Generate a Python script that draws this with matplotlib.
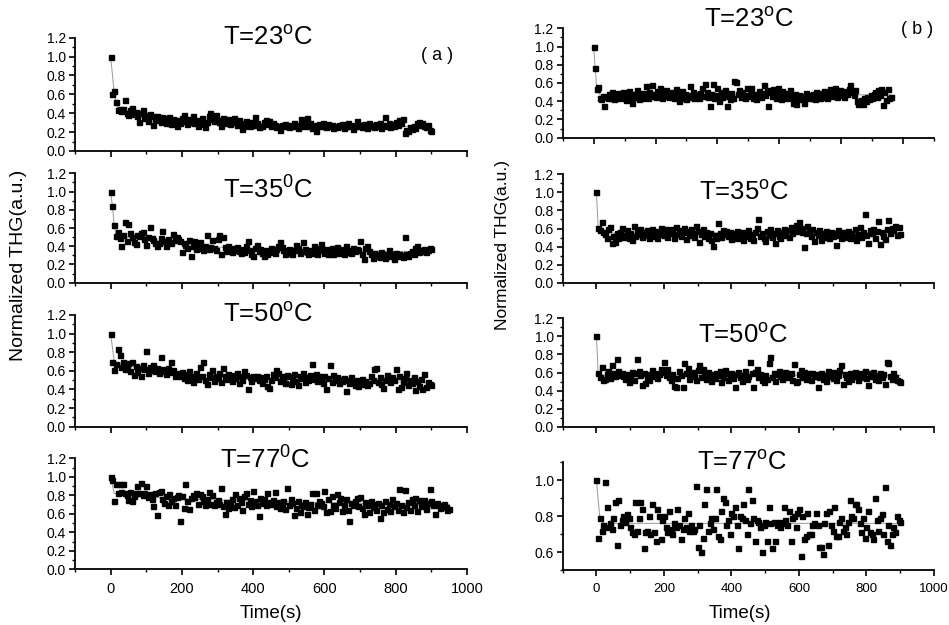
import numpy as np
import matplotlib
matplotlib.use("Agg")
import matplotlib.pyplot as plt
from matplotlib.ticker import MultipleLocator, FormatStrFormatter

plt.rcParams['font.family'] = ['Liberation Sans', 'DejaVu Sans']
plt.rcParams['mathtext.fontset'] = 'custom'
plt.rcParams['mathtext.rm'] = 'Liberation Sans'

DT = 5  # sampling step in s

# ---- column (a) ----
a23 = [1.00, 0.60, 0.64, 0.52, 0.43, 0.45, 0.42, 0.44, 0.54, 0.40,
       0.38, 0.43, 0.46, 0.39, 0.41, 0.37, 0.31, 0.40, 0.43, 0.35,
       0.38, 0.32, 0.39, 0.37, 0.28, 0.34, 0.37, 0.33, 0.31, 0.36,
       0.35, 0.30, 0.33, 0.36, 0.29, 0.34, 0.31, 0.27, 0.33, 0.30,
       0.35, 0.38, 0.32, 0.29, 0.34, 0.31, 0.37, 0.30, 0.33, 0.27,
       0.32, 0.35, 0.29, 0.25, 0.31, 0.37, 0.40, 0.34, 0.32, 0.38,
       0.33, 0.31, 0.26, 0.35, 0.33, 0.30, 0.34, 0.29, 0.32, 0.35,
       0.31, 0.28, 0.33, 0.30, 0.23, 0.27, 0.32, 0.29, 0.26, 0.31,
       0.28, 0.36, 0.30, 0.25, 0.27, 0.26, 0.31, 0.33, 0.29, 0.32,
       0.27, 0.30, 0.28, 0.25, 0.27, 0.22, 0.28, 0.26, 0.29, 0.27,
       0.25, 0.28, 0.27, 0.30, 0.26, 0.24, 0.28, 0.34, 0.26, 0.29,
       0.35, 0.27, 0.30, 0.24, 0.28, 0.21, 0.27, 0.29, 0.26, 0.30,
       0.27, 0.25, 0.29, 0.26, 0.28, 0.24, 0.27, 0.25, 0.28, 0.26,
       0.29, 0.24, 0.27, 0.30, 0.26, 0.28, 0.23, 0.27, 0.32, 0.26,
       0.28, 0.25, 0.29, 0.27, 0.24, 0.30, 0.26, 0.28, 0.25, 0.29,
       0.27, 0.30, 0.24, 0.28, 0.36, 0.26, 0.30, 0.25, 0.29, 0.27,
       0.31, 0.28, 0.33, 0.30, 0.34, 0.19, 0.22, 0.21, 0.25, 0.23,
       0.27, 0.24, 0.30, 0.31, 0.28, 0.30, 0.27, 0.25, 0.28, 0.22,
       0.21]
a35 = [1.00, 0.84, 0.63, 0.51, 0.56, 0.49, 0.40, 0.52, 0.67, 0.46,
       0.64, 0.55, 0.50, 0.45, 0.42, 0.52, 0.51, 0.55, 0.56, 0.48,
       0.41, 0.50, 0.61, 0.49, 0.47, 0.44, 0.40, 0.43, 0.49, 0.57,
       0.46, 0.40, 0.48, 0.45, 0.44, 0.53, 0.47, 0.50, 0.48, 0.46,
       0.34, 0.44, 0.41, 0.38, 0.47, 0.29, 0.40, 0.46, 0.37, 0.43,
       0.45, 0.38, 0.36, 0.40, 0.52, 0.37, 0.39, 0.47, 0.38, 0.36,
       0.48, 0.52, 0.31, 0.50, 0.39, 0.35, 0.40, 0.37, 0.34, 0.38,
       0.36, 0.39, 0.35, 0.33, 0.37, 0.34, 0.40, 0.46, 0.36, 0.31,
       0.29, 0.38, 0.41, 0.35, 0.37, 0.33, 0.29, 0.36, 0.31, 0.34,
       0.38, 0.35, 0.33, 0.37, 0.40, 0.45, 0.39, 0.36, 0.31, 0.33,
       0.37, 0.34, 0.32, 0.36, 0.41, 0.38, 0.33, 0.35, 0.45, 0.37,
       0.34, 0.31, 0.36, 0.33, 0.40, 0.35, 0.32, 0.38, 0.42, 0.36,
       0.33, 0.37, 0.31, 0.34, 0.38, 0.32, 0.36, 0.39, 0.33, 0.35,
       0.37, 0.32, 0.40, 0.34, 0.36, 0.33, 0.38, 0.35, 0.37, 0.36,
       0.46, 0.32, 0.26, 0.38, 0.40, 0.35, 0.31, 0.27, 0.33, 0.29,
       0.31, 0.28, 0.34, 0.30, 0.27, 0.32, 0.36, 0.29, 0.31, 0.26,
       0.33, 0.29, 0.32, 0.30, 0.28, 0.50, 0.31, 0.29, 0.33, 0.35,
       0.32, 0.38, 0.40, 0.34, 0.36, 0.35, 0.37, 0.34, 0.36, 0.38,
       0.37]
a50 = [1.00, 0.70, 0.61, 0.67, 0.84, 0.77, 0.64, 0.69, 0.62, 0.66,
       0.68, 0.60, 0.70, 0.56, 0.65, 0.59, 0.63, 0.55, 0.66, 0.62,
       0.81, 0.58, 0.64, 0.61, 0.66, 0.60, 0.63, 0.58, 0.75, 0.62,
       0.60, 0.57, 0.63, 0.59, 0.70, 0.61, 0.54, 0.58, 0.56, 0.54,
       0.59, 0.52, 0.57, 0.50, 0.60, 0.55, 0.48, 0.53, 0.58, 0.51,
       0.64, 0.55, 0.69, 0.50, 0.46, 0.57, 0.53, 0.61, 0.49, 0.55,
       0.52, 0.58, 0.48, 0.63, 0.55, 0.51, 0.57, 0.53, 0.49, 0.56,
       0.52, 0.58, 0.47, 0.54, 0.50, 0.60, 0.56, 0.40, 0.53, 0.49,
       0.55, 0.52, 0.54, 0.50, 0.53, 0.47, 0.51, 0.55, 0.44, 0.42,
       0.50, 0.57, 0.53, 0.61, 0.58, 0.49, 0.55, 0.52, 0.47, 0.56,
       0.54, 0.46, 0.51, 0.57, 0.49, 0.45, 0.55, 0.52, 0.58, 0.48,
       0.53, 0.50, 0.56, 0.67, 0.51, 0.57, 0.49, 0.54, 0.52, 0.47,
       0.55, 0.40, 0.52, 0.66, 0.48, 0.56, 0.50, 0.53, 0.47, 0.51,
       0.49, 0.52, 0.38, 0.50, 0.47, 0.53, 0.48, 0.45, 0.50, 0.44,
       0.48, 0.51, 0.46, 0.49, 0.45, 0.47, 0.55, 0.50, 0.62, 0.63,
       0.48, 0.53, 0.46, 0.42, 0.50, 0.56, 0.52, 0.48, 0.53, 0.50,
       0.62, 0.40, 0.55, 0.43, 0.48, 0.52, 0.58, 0.45, 0.50, 0.47,
       0.53, 0.39, 0.49, 0.44, 0.51, 0.40, 0.57, 0.43, 0.48, 0.46,
       0.45]
a77 = [1.00, 0.97, 0.74, 0.92, 0.83, 0.92, 0.84, 0.92, 0.82, 0.80,
       0.75, 0.84, 0.74, 0.79, 0.82, 0.90, 0.83, 0.93, 0.80, 0.82,
       0.90, 0.78, 0.81, 0.76, 0.68, 0.83, 0.59, 0.84, 0.85, 0.76,
       0.72, 0.79, 0.69, 0.81, 0.74, 0.77, 0.70, 0.78, 0.80, 0.52,
       0.79, 0.66, 0.92, 0.74, 0.65, 0.77, 0.80, 0.78, 0.83, 0.71,
       0.81, 0.79, 0.74, 0.69, 0.76, 0.84, 0.71, 0.80, 0.70, 0.73,
       0.75, 0.71, 0.88, 0.68, 0.60, 0.73, 0.66, 0.70, 0.76, 0.67,
       0.81, 0.70, 0.77, 0.73, 0.64, 0.79, 0.83, 0.71, 0.75, 0.68,
       0.85, 0.74, 0.69, 0.58, 0.77, 0.72, 0.76, 0.70, 0.83, 0.73,
       0.71, 0.75, 0.84, 0.68, 0.73, 0.66, 0.70, 0.74, 0.65, 0.88,
       0.69, 0.76, 0.72, 0.59, 0.66, 0.74, 0.62, 0.70, 0.68, 0.73,
       0.60, 0.67, 0.71, 0.83, 0.64, 0.82, 0.69, 0.74, 0.72, 0.68,
       0.85, 0.62, 0.76, 0.63, 0.79, 0.70, 0.66, 0.81, 0.73, 0.77,
       0.63, 0.70, 0.76, 0.64, 0.52, 0.72, 0.69, 0.74, 0.77, 0.68,
       0.78, 0.66, 0.60, 0.73, 0.70, 0.62, 0.74, 0.67, 0.71, 0.64,
       0.72, 0.56, 0.69, 0.62, 0.74, 0.65, 0.71, 0.63, 0.76, 0.68,
       0.72, 0.64, 0.87, 0.70, 0.62, 0.86, 0.67, 0.73, 0.64, 0.76,
       0.69, 0.77, 0.63, 0.75, 0.70, 0.68, 0.75, 0.65, 0.72, 0.87,
       0.74, 0.69, 0.60, 0.72, 0.70, 0.66, 0.68, 0.71, 0.67, 0.64,
       0.65]

# ---- column (b) ----
b23 = [1.00, 0.77, 0.53, 0.56, 0.44, 0.42, 0.46, 0.35, 0.45, 0.43,
       0.48, 0.44, 0.50, 0.42, 0.47, 0.45, 0.49, 0.43, 0.46, 0.50,
       0.44, 0.41, 0.47, 0.51, 0.43, 0.38, 0.48, 0.45, 0.52, 0.42,
       0.46, 0.44, 0.49, 0.47, 0.57, 0.43, 0.50, 0.46, 0.58, 0.48,
       0.45, 0.51, 0.47, 0.55, 0.44, 0.49, 0.46, 0.52, 0.48, 0.45,
       0.50, 0.47, 0.43, 0.53, 0.49, 0.40, 0.46, 0.51, 0.44, 0.48,
       0.42, 0.47, 0.57, 0.45, 0.50, 0.44, 0.48, 0.46, 0.43, 0.49,
       0.55, 0.46, 0.59, 0.50, 0.45, 0.35, 0.48, 0.59, 0.43, 0.47,
       0.55, 0.40, 0.50, 0.45, 0.48, 0.52, 0.35, 0.46, 0.42, 0.49,
       0.44, 0.62, 0.61, 0.48, 0.52, 0.45, 0.50, 0.47, 0.43, 0.54,
       0.46, 0.49, 0.55, 0.44, 0.48, 0.42, 0.46, 0.51, 0.45, 0.49,
       0.58, 0.47, 0.52, 0.35, 0.50, 0.46, 0.53, 0.49, 0.44, 0.55,
       0.48, 0.42, 0.51, 0.46, 0.49, 0.43, 0.47, 0.52, 0.45, 0.38,
       0.48, 0.37, 0.44, 0.47, 0.42, 0.46, 0.38, 0.49, 0.45, 0.43,
       0.47, 0.44, 0.48, 0.42, 0.50, 0.46, 0.43, 0.49, 0.45, 0.51,
       0.47, 0.44, 0.50, 0.53, 0.46, 0.48, 0.55, 0.45, 0.49, 0.52,
       0.47, 0.50, 0.45, 0.51, 0.48, 0.53, 0.58, 0.50, 0.47, 0.52,
       0.40, 0.37, 0.38, 0.41, 0.37, 0.43, 0.40, 0.45, 0.42, 0.47,
       0.44, 0.48, 0.50, 0.45, 0.52, 0.47, 0.53, 0.36, 0.50, 0.41,
       0.53, 0.44, 0.45]
b35 = [1.00, 0.61, 0.58, 0.67, 0.56, 0.54, 0.50, 0.59, 0.62, 0.44,
       0.52, 0.45, 0.55, 0.49, 0.56, 0.61, 0.51, 0.53, 0.58, 0.50,
       0.55, 0.47, 0.63, 0.52, 0.57, 0.54, 0.60, 0.51, 0.56, 0.53,
       0.58, 0.50, 0.55, 0.60, 0.52, 0.57, 0.49, 0.54, 0.61, 0.56,
       0.53, 0.59, 0.51, 0.57, 0.55, 0.60, 0.49, 0.62, 0.54, 0.58,
       0.52, 0.56, 0.61, 0.48, 0.57, 0.53, 0.59, 0.55, 0.51, 0.63,
       0.57, 0.45, 0.54, 0.59, 0.52, 0.56, 0.50, 0.55, 0.47, 0.41,
       0.53, 0.49, 0.66, 0.55, 0.51, 0.58, 0.54, 0.57, 0.52, 0.56,
       0.48, 0.55, 0.50, 0.57, 0.53, 0.49, 0.56, 0.47, 0.52, 0.55,
       0.58, 0.50, 0.54, 0.47, 0.56, 0.61, 0.70, 0.52, 0.55, 0.49,
       0.46, 0.57, 0.53, 0.59, 0.51, 0.55, 0.44, 0.58, 0.52, 0.49,
       0.56, 0.60, 0.53, 0.58, 0.51, 0.62, 0.55, 0.59, 0.64, 0.57,
       0.67, 0.61, 0.56, 0.40, 0.55, 0.63, 0.58, 0.52, 0.60, 0.46,
       0.56, 0.53, 0.58, 0.47, 0.55, 0.51, 0.57, 0.54, 0.49, 0.56,
       0.52, 0.55, 0.42, 0.58, 0.53, 0.50, 0.56, 0.51, 0.54, 0.57,
       0.49, 0.55, 0.52, 0.59, 0.47, 0.54, 0.62, 0.51, 0.56, 0.76,
       0.53, 0.44, 0.58, 0.55, 0.60, 0.50, 0.57, 0.68, 0.43, 0.56,
       0.52, 0.48, 0.59, 0.69, 0.55, 0.61, 0.58, 0.63, 0.53, 0.62,
       0.54]
b50 = [1.00, 0.59, 0.55, 0.66, 0.52, 0.53, 0.58, 0.62, 0.54, 0.68,
       0.60, 0.56, 0.75, 0.62, 0.57, 0.60, 0.56, 0.53, 0.58, 0.50,
       0.55, 0.61, 0.52, 0.59, 0.75, 0.62, 0.57, 0.46, 0.60, 0.48,
       0.55, 0.52, 0.58, 0.63, 0.56, 0.60, 0.54, 0.58, 0.64, 0.61,
       0.72, 0.57, 0.64, 0.55, 0.52, 0.58, 0.45, 0.44, 0.54, 0.62,
       0.57, 0.44, 0.70, 0.60, 0.65, 0.53, 0.58, 0.61, 0.56, 0.52,
       0.63, 0.68, 0.55, 0.64, 0.59, 0.53, 0.61, 0.56, 0.51, 0.58,
       0.54, 0.60, 0.57, 0.62, 0.50, 0.55, 0.63, 0.59, 0.52, 0.57,
       0.60, 0.54, 0.44, 0.58, 0.61, 0.55, 0.51, 0.57, 0.62, 0.53,
       0.56, 0.72, 0.59, 0.44, 0.61, 0.64, 0.55, 0.58, 0.52, 0.49,
       0.57, 0.53, 0.71, 0.77, 0.55, 0.60, 0.51, 0.58, 0.62, 0.56,
       0.53, 0.59, 0.61, 0.55, 0.57, 0.60, 0.52, 0.69, 0.49, 0.51,
       0.58, 0.63, 0.55, 0.61, 0.53, 0.57, 0.59, 0.52, 0.60, 0.56,
       0.58, 0.44, 0.55, 0.60, 0.53, 0.57, 0.51, 0.62, 0.56, 0.59,
       0.54, 0.61, 0.52, 0.57, 0.63, 0.68, 0.47, 0.58, 0.55, 0.51,
       0.59, 0.53, 0.56, 0.61, 0.57, 0.52, 0.58, 0.60, 0.55, 0.62,
       0.54, 0.46, 0.59, 0.56, 0.61, 0.53, 0.57, 0.52, 0.60, 0.55,
       0.58, 0.47, 0.72, 0.71, 0.56, 0.53, 0.60, 0.55, 0.52, 0.51,
       0.50]
b77 = [1.00, 0.68, 0.79, 0.72, 0.75, 0.99, 0.85, 0.74, 0.76, 0.73,
       0.79, 0.88, 0.64, 0.89, 0.75, 0.78, 0.80, 0.77, 0.81, 0.79,
       0.74, 0.71, 0.70, 0.88, 0.72, 0.79, 0.88, 0.84, 0.62, 0.71,
       0.72, 0.80, 0.70, 0.87, 0.71, 0.66, 0.84, 0.80, 0.67, 0.78,
       0.80, 0.74, 0.71, 0.83, 0.73, 0.70, 0.76, 0.74, 0.84, 0.75,
       0.67, 0.73, 0.79, 0.74, 0.82, 0.72, 0.75, 0.72, 0.73, 0.97,
       0.63, 0.75, 0.60, 0.68, 0.87, 0.95, 0.72, 0.76, 0.79, 0.73,
       0.79, 0.95, 0.69, 0.67, 0.83, 0.90, 0.88, 0.75, 0.78, 0.70,
       0.82, 0.80, 0.85, 0.75, 0.62, 0.80, 0.79, 0.87, 0.78, 0.70,
       0.95, 0.76, 0.89, 0.79, 0.66, 0.78, 0.77, 0.74, 0.60, 0.75,
       0.77, 0.66, 0.85, 0.76, 0.62, 0.77, 0.66, 0.75, 0.77, 0.74,
       0.76, 0.85, 0.78, 0.75, 0.83, 0.66, 0.79, 0.80, 0.74, 0.82,
       0.84, 0.58, 0.80, 0.67, 0.69, 0.82, 0.70, 0.70, 0.75, 0.76,
       0.82, 0.75, 0.63, 0.63, 0.59, 0.76, 0.82, 0.64, 0.83, 0.75,
       0.72, 0.85, 0.69, 0.69, 0.77, 0.79, 0.72, 0.74, 0.70, 0.77,
       0.89, 0.80, 0.79, 0.87, 0.87, 0.84, 0.76, 0.71, 0.79, 0.68,
       0.74, 0.83, 0.71, 0.70, 0.67, 0.90, 0.78, 0.72, 0.79, 0.81,
       0.70, 0.96, 0.66, 0.75, 0.64, 0.70, 0.74, 0.71, 0.80, 0.78,
       0.77]

# thin grey fit curves
fit_a = [([0, 10, 20, 50, 100, 200, 400, 600, 900],
          [1.0, 0.62, 0.45, 0.40, 0.36, 0.32, 0.29, 0.27, 0.26]),
         ([0, 5, 10, 15, 50, 100, 200, 300, 400, 600, 900],
          [1.0, 0.84, 0.63, 0.52, 0.50, 0.47, 0.42, 0.39, 0.37, 0.35, 0.34]),
         ([0, 10, 50, 100, 200, 300, 400, 600, 900],
          [1.0, 0.70, 0.65, 0.62, 0.57, 0.54, 0.52, 0.50, 0.47]),
         ([0, 10, 50, 100, 200, 400, 600, 950],
          [1.0, 0.82, 0.80, 0.78, 0.76, 0.74, 0.72, 0.70])]
fit_b = [([0, 5, 10, 20, 100, 960], [1.0, 0.77, 0.53, 0.47, 0.47, 0.47]),
         ([0, 5, 20, 900], [1.0, 0.61, 0.55, 0.55]),
         ([0, 5, 20, 900], [1.0, 0.59, 0.57, 0.57]),
         ([0, 10, 20, 900], [1.0, 0.79, 0.76, 0.76])]

titles_a = ['T=23$^{\\mathregular{o}}$C', 'T=35$^{\\mathregular{0}}$C',
            'T=50$^{\\mathregular{o}}$C', 'T=77$^{\\mathregular{0}}$C']
titles_b = ['T=23$^{\\mathregular{o}}$C', 'T=35$^{\\mathregular{o}}$C',
            'T=50$^{\\mathregular{o}}$C', 'T=77$^{\\mathregular{o}}$C']

W, H = 949, 625
fig = plt.figure(figsize=(W / 100, H / 100), dpi=100)


def add_panel(x0, y0, x1, y1):
    return fig.add_axes([x0 / W, 1 - y1 / H, (x1 - x0) / W, (y1 - y0) / H])


def style(ax, xmax, ylim, show_x, xlab_size=10.5):
    ax.set_xlim(-100, xmax)
    ax.set_ylim(*ylim)
    for s in ('top', 'right'):
        ax.spines[s].set_visible(False)
    for s in ('left', 'bottom'):
        ax.spines[s].set_linewidth(1.3)
    ax.xaxis.set_major_locator(MultipleLocator(200))
    ax.xaxis.set_minor_locator(MultipleLocator(100))
    ax.yaxis.set_major_locator(MultipleLocator(0.2))
    ax.yaxis.set_minor_locator(MultipleLocator(0.1))
    ax.yaxis.set_major_formatter(FormatStrFormatter('%.1f'))
    ax.tick_params(which='major', direction='out', length=4.5, width=1.2, labelsize=10, pad=2)
    ax.tick_params(which='minor', direction='out', length=2.5, width=1.0)
    if not show_x:
        ax.tick_params(axis='x', labelbottom=False)
    else:
        ax.tick_params(axis='x', labelsize=xlab_size, pad=5)


def draw(ax, vals, fit):
    t = np.arange(len(vals)) * DT
    ax.plot(fit[0], fit[1], color='#999999', lw=0.7, zorder=1)
    ax.plot(t, vals, ls='none', marker='s', ms=3.6, color='black', mec='black', zorder=2)


# panel boxes in pixels: (ytop, ybottom); x extents per column
left_rows = [(37.7, 151), (173.3, 282.7), (315, 426.7), (458.3, 569.3)]
right_rows = [(28.3, 137.7), (174.3, 282.7), (318.3, 426.7), (462.3, 570)]
data_a = [a23, a35, a50, a77]
data_b = [b23, b35, b50, b77]

for i, (yt, yb) in enumerate(left_rows):
    ax = add_panel(75, yt, 467, yb)
    draw(ax, data_a[i], fit_a[i])
    style(ax, 1000, (0, 1.2), i == 3)

for i, (yt, yb) in enumerate(right_rows):
    ax = add_panel(562.7, yt, 934, yb)
    draw(ax, data_b[i], fit_b[i])
    if i == 3:
        style(ax, 1000, (0.5, 1.1), True, xlab_size=9.5)
    else:
        style(ax, 1100 if i == 0 else 1000, (0, 1.2), False)

# panel titles (pixel positions of text centre / baseline)
title_pos_a = [(268, 45), (268, 198), (268, 321.7), (265, 468)]
title_pos_b = [(749, 26.5), (744, 200), (743, 343), (742, 470)]
for (x, y), s in zip(title_pos_a, titles_a):
    fig.text(x / W, 1 - y / H, s, ha='center', va='baseline', fontsize=18.5)
for (x, y), s in zip(title_pos_b, titles_b):
    fig.text(x / W, 1 - y / H, s, ha='center', va='baseline', fontsize=18.5)

fig.text(437 / W, 1 - 55 / H, '( a )', ha='center', va='center', fontsize=13)
fig.text(917 / W, 1 - 29 / H, '( b )', ha='center', va='center', fontsize=13)

fig.text(19 / W, 1 - 265 / H, 'Normalized THG(a.u.)', rotation=90,
         ha='center', va='center', fontsize=14)
fig.text(503 / W, 1 - 245 / H, 'Normalized THG(a.u.)', rotation=90,
         ha='center', va='center', fontsize=12.5)
fig.text(271 / W, 1 - 614 / H, 'Time(s)', ha='center', va='center', fontsize=13.5)
fig.text(740 / W, 1 - 614 / H, 'Time(s)', ha='center', va='center', fontsize=13.5)

fig.savefig('out.png', dpi=100)
